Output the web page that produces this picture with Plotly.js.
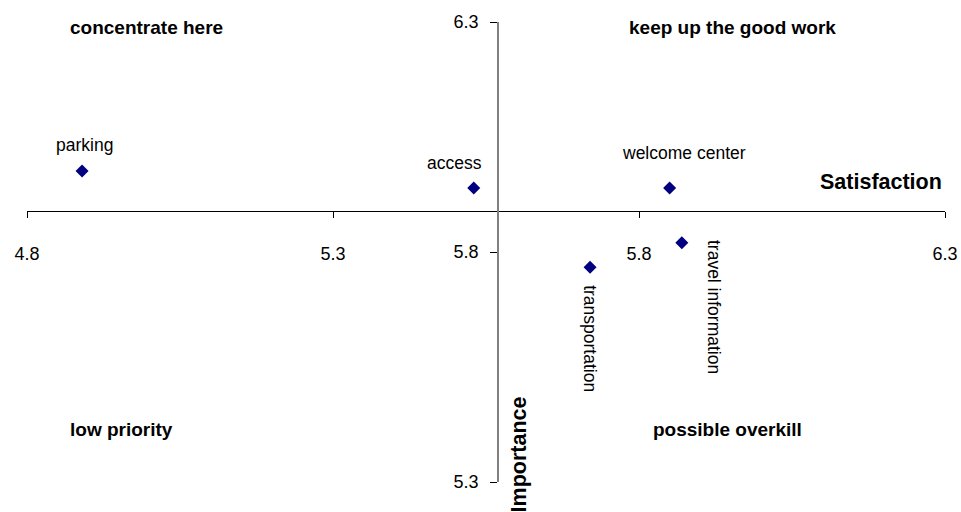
<!DOCTYPE html>
<html>
<head>
<meta charset="utf-8">
<script src="https://cdn.plot.ly/plotly-3.0.1.min.js"></script>
<style>
  html, body { margin: 0; padding: 0; background: #ffffff; }
  #chart { width: 961px; height: 512px; }
</style>
</head>
<body>
<div id="chart"></div>
<script>
// Satisfaction vs. importance of visitor services
const services = ["parking", "access", "welcome center", "travel information", "transportation"];
const satisfaction = [4.89, 5.53, 5.85, 5.87, 5.72];
const importance = [5.976, 5.939, 5.939, 5.82, 5.767];

// Axis ranges and where the two axes cross
const xTicks = [4.8, 5.3, 5.8, 6.3];
const yTicks = [5.3, 5.8, 6.3];
const xRange = [4.8, 6.3];
const yRange = [5.3, 6.3];
const satisfactionCross = 5.57;   // vertical axis sits here on the satisfaction scale
const importanceCross = 5.889;    // horizontal axis sits here on the importance scale

const quadrantNames = ["concentrate here", "keep up the good work", "low priority", "possible overkill"];

const FONT = '"Liberation Sans", Arial, sans-serif';

// Label placement around each marker (pixel offsets, rotation)
const labelStyle = {
  "parking":            { dx: 2,  dy: 26,  angle: 0 },
  "access":             { dx: -19, dy: 25, angle: 0 },
  "welcome center":     { dx: 14, dy: 35,  angle: 0 },
  "travel information": { dx: 32, dy: -64, angle: 90 },
  "transportation":     { dx: 0,  dy: -71, angle: 90 }
};

const trace = {
  type: "scatter",
  mode: "markers",
  x: satisfaction,
  y: importance,
  text: services,
  hoverinfo: "text",
  marker: { symbol: "diamond", size: 10, color: "#000080", line: { width: 0 } },
  showlegend: false,
  cliponaxis: false
};

const annotations = [];

// Point labels
services.forEach((name, i) => {
  const s = labelStyle[name];
  annotations.push({
    x: satisfaction[i], y: importance[i], xref: "x", yref: "y",
    text: name, showarrow: false,
    xanchor: "center", yanchor: "middle",
    xshift: s.dx, yshift: s.dy, textangle: s.angle,
    font: { family: FONT, size: 17.5, color: "#000000" }
  });
});

// Quadrant captions
const quadPos = [
  { x: 0.0447, y: 0.987 },
  { x: 0.6536, y: 0.987 },
  { x: 0.0447, y: 0.115 },
  { x: 0.6797, y: 0.115 }
];
quadrantNames.forEach((t, i) => {
  annotations.push({
    x: quadPos[i].x, y: quadPos[i].y, xref: "paper", yref: "paper",
    text: "<b>" + t + "</b>", showarrow: false,
    xanchor: "left", yanchor: "middle",
    font: { family: FONT, size: 19, color: "#000000" }
  });
});

// Axis titles
annotations.push({
  x: 0.9985, y: 0.652, xref: "paper", yref: "paper",
  text: "<b>Satisfaction</b>", showarrow: false,
  xanchor: "right", yanchor: "middle",
  font: { family: FONT, size: 21.5, color: "#000000" }
});
annotations.push({
  x: 0.536, y: 0.06, xref: "paper", yref: "paper",
  text: "<b>Importance</b>", showarrow: false, textangle: -90,
  xanchor: "center", yanchor: "middle",
  font: { family: FONT, size: 21.5, color: "#000000" }
});

const layout = {
  width: 961,
  height: 512,
  margin: { l: 27, r: 16, t: 22, b: 30, pad: 0 },
  paper_bgcolor: "#ffffff",
  plot_bgcolor: "#ffffff",
  font: { family: FONT, color: "#000000" },
  xaxis: {
    range: xRange,
    anchor: "free",
    position: (importanceCross - yRange[0]) / (yRange[1] - yRange[0]),
    showgrid: false, zeroline: false,
    showline: true, linecolor: "#000000", linewidth: 1,
    ticks: "outside", ticklen: 6, tickwidth: 1, tickcolor: "#000000",
    tickvals: xTicks, ticktext: xTicks.map(v => v.toFixed(1)),
    ticklabelstandoff: 20,
    tickfont: { family: FONT, size: 18, color: "#000000" },
    fixedrange: true
  },
  yaxis: {
    range: yRange,
    anchor: "free",
    position: (satisfactionCross - xRange[0]) / (xRange[1] - xRange[0]),
    showgrid: false, zeroline: false,
    showline: true, linecolor: "#808080", linewidth: 2,
    ticks: "outside", ticklen: 7, tickwidth: 1, tickcolor: "#000000",
    tickvals: yTicks, ticktext: yTicks.map(v => v.toFixed(1)),
    ticklabelstandoff: 8,
    tickfont: { family: FONT, size: 18, color: "#000000" },
    fixedrange: true
  },
  annotations: annotations,
  showlegend: false
};

Plotly.newPlot("chart", [trace], layout, { displayModeBar: false, staticPlot: true });
</script>
</body>
</html>
